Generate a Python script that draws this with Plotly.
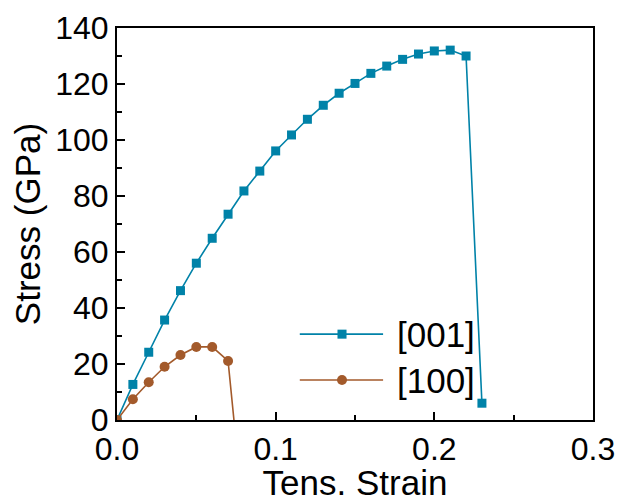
import plotly.graph_objects as go

strain_001 = [0.0, 0.01, 0.02, 0.03, 0.04, 0.05, 0.06, 0.07, 0.08, 0.09, 0.10, 0.11,
              0.12, 0.13, 0.14, 0.15, 0.16, 0.17, 0.18, 0.19, 0.20, 0.21, 0.22, 0.23]
stress_001 = [0.0, 12.7, 24.2, 35.7, 46.2, 56.0, 64.9, 73.5, 81.8, 88.9, 96.1, 101.8,
              107.4, 112.4, 116.7, 120.2, 123.8, 126.4, 128.8, 130.7, 131.8, 132.1, 130.0, 6.0]

strain_100 = [0.0, 0.01, 0.02, 0.03, 0.04, 0.05, 0.06, 0.07, 0.075]
stress_100 = [0.0, 7.4, 13.5, 19.0, 23.2, 26.1, 26.1, 21.1, -7.4]

series_names = ["[001]", "[100]"]
x_ticks = [0.0, 0.1, 0.2, 0.3]
x_ticklabels = ["0.0", "0.1", "0.2", "0.3"]
y_ticks = [0, 20, 40, 60, 80, 100, 120, 140]

BLUE = "#0082A8"
BROWN = "#A35A2B"
FONT = "Arial, Liberation Sans, sans-serif"

fig = go.Figure()
fig.add_trace(go.Scatter(x=strain_001, y=stress_001, mode="lines+markers", name=series_names[0],
                         line=dict(color=BLUE, width=1.6),
                         marker=dict(symbol="square", size=9, color=BLUE), showlegend=False))
fig.add_trace(go.Scatter(x=strain_100, y=stress_100, mode="lines+markers", name=series_names[1],
                         line=dict(color=BROWN, width=1.6),
                         marker=dict(symbol="circle", size=10, color=BROWN), showlegend=False))

# manual legend (paper coordinates)
leg = [(series_names[0], BLUE, "square", 0.219), (series_names[1], BROWN, "circle", 0.102)]
for name, col, sym, yy in leg:
    fig.add_shape(type="line", xref="paper", yref="paper", x0=0.384, x1=0.559, y0=yy, y1=yy,
                  line=dict(color=col, width=1.6))
    fig.add_annotation(xref="paper", yref="paper", x=0.584, y=yy, text=name, showarrow=False,
                       xanchor="left", yanchor="middle", font=dict(family=FONT, size=35, color="black"))
# legend markers
fig.add_shape(type="rect", xref="paper", yref="paper", x0=0.4727 - 0.0095, x1=0.4727 + 0.0095,
              y0=0.219 - 0.0115, y1=0.219 + 0.0115, fillcolor=BLUE, line=dict(width=0))
fig.add_shape(type="circle", xref="paper", yref="paper", x0=0.4727 - 0.0105, x1=0.4727 + 0.0105,
              y0=0.102 - 0.0128, y1=0.102 + 0.0128, fillcolor=BROWN, line=dict(width=0))

axis_common = dict(showline=True, linecolor="black", linewidth=2, mirror=True,
                   ticks="inside", ticklen=8, tickwidth=1.5, tickcolor="black",
                   showgrid=False, zeroline=False, automargin=False,
                   tickfont=dict(family=FONT, size=32, color="black"))

fig.update_xaxes(range=[0, 0.3], tickvals=x_ticks, ticktext=x_ticklabels,
                 minor=dict(dtick=0.05, ticks="inside", ticklen=5, tickwidth=1.5, tickcolor="black"),
                 title=dict(text="Tens. Strain", font=dict(family=FONT, size=35, color="black"), standoff=4),
                 **axis_common)
fig.update_yaxes(range=[0, 140], tickvals=y_ticks,
                 minor=dict(dtick=10, ticks="inside", ticklen=5, tickwidth=1.5, tickcolor="black"),
                 title=dict(text="Stress (GPa)", font=dict(family=FONT, size=35, color="black"), standoff=8),
                 **axis_common)

# the page body has an 8px default margin; shrink the figure to compensate
fig.update_layout(width=627, height=494, margin=dict(l=109, r=42, t=20, b=82),
                  plot_bgcolor="white", paper_bgcolor="white")

fig.write_html("out.html")
